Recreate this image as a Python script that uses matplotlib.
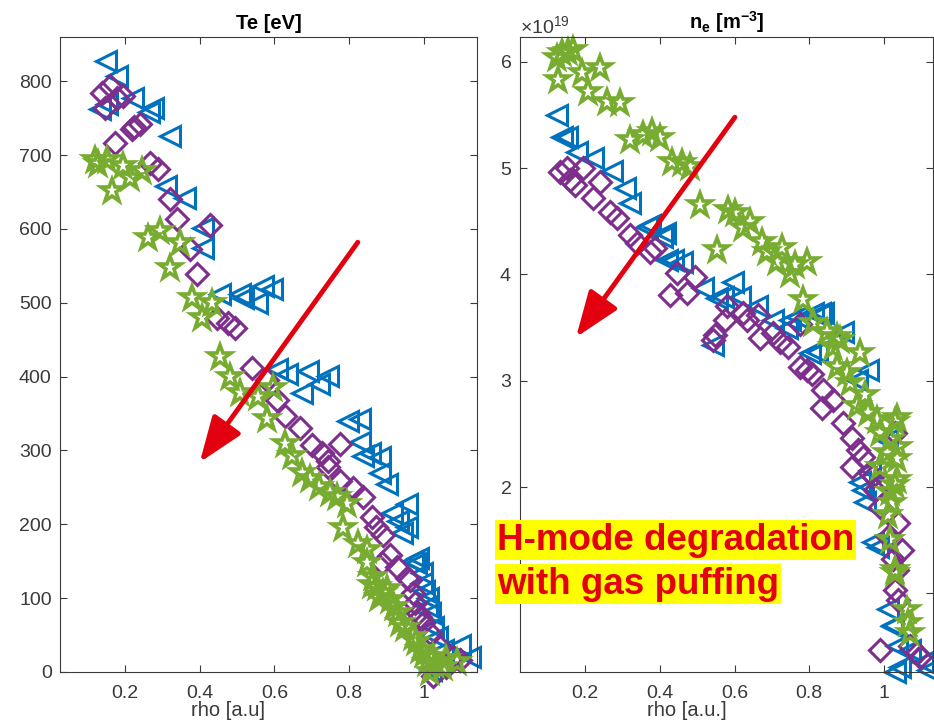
import matplotlib
matplotlib.use('Agg')
import matplotlib.pyplot as plt
from matplotlib.markers import MarkerStyle
from matplotlib.ticker import ScalarFormatter

plt.rcParams['font.family'] = ['Liberation Sans', 'DejaVu Sans']
plt.rcParams['mathtext.fontset'] = 'custom'
plt.rcParams['mathtext.rm'] = 'Liberation Sans'
plt.rcParams['mathtext.it'] = 'Liberation Sans:italic'
plt.rcParams['mathtext.bf'] = 'Liberation Sans:bold'

BLUE = '#0072BD'
PURPLE = '#7E2F8E'
GREEN = '#77AC30'
AXCOL = '#3a3a3a'
RED = '#e3000f'

# ---- electron temperature profiles [eV] ----
te_blue_rho = [0.15, 0.179, 0.133, 0.152, 0.221, 0.264, 0.275, 0.32, 0.31, 0.36,
               0.41, 0.41, 0.454, 0.507, 0.515, 0.553, 0.57, 0.593, 0.606, 0.633,
               0.69, 0.743, 0.72, 0.673, 0.797, 0.83, 0.83, 0.837, 0.855, 0.882,
               0.882, 0.9, 0.914, 0.954, 0.93, 0.954, 0.94, 0.984, 0.98, 0.994,
               0.994, 1.007, 1.015, 1.024, 1.034, 1.05, 1.07, 1.096, 1.122, 1.02,
               0.97, 1.0, 1.01]
te_blue = [827, 807, 762, 769, 777, 759, 764, 726, 658, 642,
           601, 574, 512, 512, 507, 500, 523, 519, 411, 404,
           408, 401, 390, 378, 340, 343, 311, 293, 297, 291,
           270, 255, 215, 228, 205, 196, 188, 155, 147, 134,
           120, 90, 80, 61, 47, 30, 16, 36, 20, 3,
           151, 110, 100]

te_purple_rho = [0.138, 0.16, 0.147, 0.178, 0.195, 0.173, 0.219, 0.24, 0.225, 0.267,
                 0.289, 0.32, 0.339, 0.427, 0.374, 0.392, 0.446, 0.476, 0.494, 0.54,
                 0.58, 0.606, 0.628, 0.668, 0.7, 0.727, 0.743, 0.775, 0.743, 0.775,
                 0.81, 0.836, 0.86, 0.873, 0.89, 0.887, 0.909, 0.927, 0.954, 0.97,
                 0.984, 0.997, 1.015, 1.042, 1.077, 1.096, 1.024, 1.06,
                 0.962, 0.975, 0.99]
te_purple = [784, 793, 764, 777, 780, 716, 735, 742, 738, 689,
             681, 640, 613, 606, 573, 539, 480, 473, 466, 412,
             395, 368, 347, 331, 307, 296, 286, 309, 277, 259,
             249, 237, 210, 196, 185, 147, 158, 142, 127, 107,
             80, 66, 53, 34, 20, 16, -6, 7,
             124, 93, 75]

te_green_rho = [0.12, 0.152, 0.128, 0.165, 0.195, 0.213, 0.245, 0.262, 0.294, 0.347,
                0.32, 0.379, 0.433, 0.406, 0.454, 0.48, 0.507, 0.556, 0.596, 0.58,
                0.628, 0.647, 0.673, 0.695, 0.72, 0.748, 0.767, 0.794, 0.783, 0.823,
                0.847, 0.847, 0.863, 0.874, 0.89, 0.909, 0.93, 0.935, 0.97, 0.989,
                1.007, 1.024, 1.05, 1.088, 1.015,
                0.86, 0.88, 0.9, 0.92, 0.95, 0.98, 1.0, 1.03, 1.06]
te_green = [694, 694, 688, 651, 685, 669, 678, 588, 597, 581,
            547, 507, 500, 480, 426, 399, 378, 372, 384, 343,
            309, 293, 269, 262, 250, 242, 237, 228, 195, 174,
            165, 147, 128, 115, 107, 97, 80, 66, 47, 30,
            12, 20, 7, 14, 0,
            118, 100, 112, 88, 60, 40, 25, 10, 18]

# ---- electron density profiles [1e19 m^-3] ----
ne_blue_rho = [0.125, 0.138, 0.152, 0.178, 0.221, 0.272, 0.307, 0.32, 0.366, 0.406,
               0.374, 0.414, 0.419, 0.46, 0.435, 0.516, 0.569, 0.596, 0.553, 0.614,
               0.66, 0.542, 0.703, 0.74, 0.767, 0.81, 0.828, 0.802, 0.748, 0.836,
               0.89, 0.82, 0.957, 0.927, 1.007, 0.935, 0.962, 0.949, 0.983, 0.97,
               0.944, 1.01, 1.02, 1.024, 1.034, 1.029, 1.042, 1.069, 1.104, 1.117]
ne_blue = [5.5, 5.29, 5.29, 5.15, 5.1, 4.97, 4.81, 4.67, 4.45, 4.35,
           4.47, 4.39, 4.14, 4.12, 4.14, 3.87, 3.79, 3.93, 3.78, 3.79,
           3.7, 3.34, 3.57, 3.5, 3.6, 3.64, 3.64, 3.26, 3.57, 3.64,
           3.46, 3.27, 3.1, 3.01, 2.44, 2.05, 2.16, 1.86, 1.44, 1.48,
           1.97, 0.85, 0.69, 0.7, 0.5, 0.26, 0.31, 0.47, 0.35, 0.28]

ne_purple_rho = [0.133, 0.152, 0.16, 0.173, 0.195, 0.24, 0.221, 0.267, 0.286, 0.32,
                 0.34, 0.374, 0.387, 0.446, 0.427, 0.473, 0.494, 0.542, 0.58, 0.574,
                 0.622, 0.663, 0.633, 0.668, 0.703, 0.721, 0.743, 0.775, 0.548, 0.775,
                 0.793, 0.807, 0.836, 0.834, 0.863, 0.89, 0.914, 0.93, 0.914, 0.944,
                 0.962, 0.976, 1.029, 0.97, 0.989, 1.037, 1.01, 1.024, 1.029, 1.048,
                 1.034, 1.037, 0.989, 1.069, 1.088, 1.096]
ne_purple = [4.96, 5.0, 4.89, 4.84, 5.0, 4.87, 4.72, 4.59, 4.53, 4.37,
             4.3, 4.21, 4.25, 4.01, 3.81, 3.83, 3.98, 3.38, 3.7, 3.57,
             3.64, 3.62, 3.57, 3.4, 3.45, 3.36, 3.32, 3.53, 3.43, 3.13,
             3.1, 3.06, 2.91, 2.74, 2.82, 2.6, 2.46, 2.35, 2.19, 2.28,
             2.13, 1.97, 2.51, 2.1, 1.81, 1.66, 1.53, 1.32, 1.03, 1.41,
             1.22, 0.94, 0.47, 0.5, 0.44, 0.4]

ne_green_rho = [0.125, 0.155, 0.138, 0.168, 0.128, 0.192, 0.24, 0.208, 0.259, 0.294,
                0.32, 0.355, 0.38, 0.4, 0.433, 0.46, 0.48, 0.508, 0.553, 0.582,
                0.6, 0.641, 0.623, 0.673, 0.687, 0.727, 0.713, 0.761, 0.793, 0.748,
                0.783, 0.81, 0.847, 0.863, 0.874, 0.882, 0.935, 0.874, 0.9, 0.91,
                0.949, 0.927, 0.957, 0.981, 1.034, 0.989, 1.016, 1.037, 1.007, 1.034,
                0.989, 1.034, 1.016, 1.029, 1.02, 1.01, 1.016, 1.029, 1.061, 1.064,
                1.069, 1.029, 1.029]
ne_green = [6.04, 6.09, 6.08, 6.11, 5.83, 5.9, 5.94, 5.72, 5.62, 5.61,
            5.27, 5.31, 5.34, 5.28, 5.06, 5.05, 5.01, 4.65, 4.23, 4.61,
            4.58, 4.49, 4.44, 4.31, 4.21, 4.25, 4.12, 4.09, 4.12, 4.0,
            3.76, 3.54, 3.46, 3.32, 3.41, 3.38, 3.26, 3.13, 3.07, 2.98,
            2.87, 2.76, 2.70, 2.63, 2.65, 2.51, 2.44, 2.38, 2.32, 2.26,
            2.19, 2.07, 1.95, 2.02, 1.85, 1.74, 1.50, 1.22, 0.84, 0.72,
            0.63, 2.61, 1.19]

rho_ticks = [0.2, 0.4, 0.6, 0.8, 1]
rho_labels = ['0.2', '0.4', '0.6', '0.8', '1']
te_ticks = [0, 100, 200, 300, 400, 500, 600, 700, 800]
ne_ticks = [2e19, 3e19, 4e19, 5e19, 6e19]


def style_axes(ax):
    # boxed axes with inward ticks on every side
    for sp in ax.spines.values():
        sp.set_color(AXCOL)
        sp.set_linewidth(0.8)
    ax.tick_params(which='both', direction='in', length=5, width=0.8,
                   color=AXCOL, labelcolor=AXCOL, labelsize=14,
                   top=True, right=True)
    ax.tick_params(axis='x', pad=9)
    ax.tick_params(axis='y', pad=6)


def hollow(symbol):
    return MarkerStyle(symbol, fillstyle='none', joinstyle='miter')


def draw_profiles(ax, blue, purple, green, scale=1.0):
    mk = dict(linestyle='none', clip_on=False)
    ax.plot(blue[0], [v * scale for v in blue[1]], marker=hollow('<'), ms=14,
            markeredgewidth=2.2, color=BLUE, **mk)
    ax.plot(purple[0], [v * scale for v in purple[1]], marker=hollow('D'), ms=11,
            markeredgewidth=2.2, color=PURPLE, **mk)
    ax.plot(green[0], [v * scale for v in green[1]], marker=hollow('*'), ms=17,
            markeredgewidth=2.6, color=GREEN, **mk)


def red_arrow(ax, tail, head):
    ax.annotate('', xy=head, xytext=tail, annotation_clip=False,
                arrowprops=dict(arrowstyle='-|>,head_length=2.8,head_width=1.05',
                                color=RED, lw=3.5, mutation_scale=10,
                                shrinkA=0, shrinkB=0))


fig = plt.figure(figsize=(9.34, 7.22), dpi=100)

# temperature panel
ax1 = fig.add_axes([60 / 934, 50 / 722, 417 / 934, 635 / 722])
draw_profiles(ax1, (te_blue_rho, te_blue), (te_purple_rho, te_purple),
              (te_green_rho, te_green))
ax1.set_xlim(0.026, 1.142)
ax1.set_ylim(0, 860)
ax1.set_xticks(rho_ticks)
ax1.set_xticklabels(rho_labels)
ax1.set_yticks(te_ticks)
style_axes(ax1)
ax1.set_title('Te [eV]', fontsize=14.5, fontweight='bold', pad=6)
ax1.set_xlabel('rho [a.u]', fontsize=14.5, color=AXCOL)
ax1.xaxis.set_label_coords(0.403, -0.046)
red_arrow(ax1, (0.823, 582), (0.4, 284))

# density panel
ax2 = fig.add_axes([520 / 934, 50 / 722, 413 / 934, 635 / 722])
draw_profiles(ax2, (ne_blue_rho, ne_blue), (ne_purple_rho, ne_purple),
              (ne_green_rho, ne_green), scale=1e19)
ax2.set_xlim(0.026, 1.131)
ax2.set_ylim(0.259e19, 6.235e19)
ax2.set_xticks(rho_ticks)
ax2.set_xticklabels(rho_labels)
ax2.set_yticks(ne_ticks)
# the 1e19 tick sits under the annotation box, so keep it unlabelled
ax2.set_yticks([1e19], minor=True)
fmt = ScalarFormatter(useMathText=True)
fmt.set_powerlimits((0, 0))
ax2.yaxis.set_major_formatter(fmt)
style_axes(ax2)
ax2.yaxis.get_offset_text().set_fontsize(14)
ax2.yaxis.get_offset_text().set_color(AXCOL)
ax2.set_title(r'$\mathbf{n_e}$ [m$^{\mathbf{-3}}$]', fontsize=14.5,
              fontweight='bold', pad=6)
ax2.set_xlabel('rho [a.u.]', fontsize=14.5, color=AXCOL)
ax2.xaxis.set_label_coords(0.403, -0.046)
red_arrow(ax2, (0.601, 5.48e19), (0.176, 3.41e19))

# annotation box
box = dict(facecolor='#ffff00', edgecolor='none', pad=1.5)
fig.text(497 / 934, 1 - 540 / 722, 'H-mode degradation', fontsize=26.5,
         fontweight='bold', color=RED, ha='left', va='center', bbox=box)
fig.text(497 / 934, 1 - 584 / 722, 'with gas puffing', fontsize=26.5,
         fontweight='bold', color=RED, ha='left', va='center', bbox=box)

fig.savefig('out.png', dpi=100)
